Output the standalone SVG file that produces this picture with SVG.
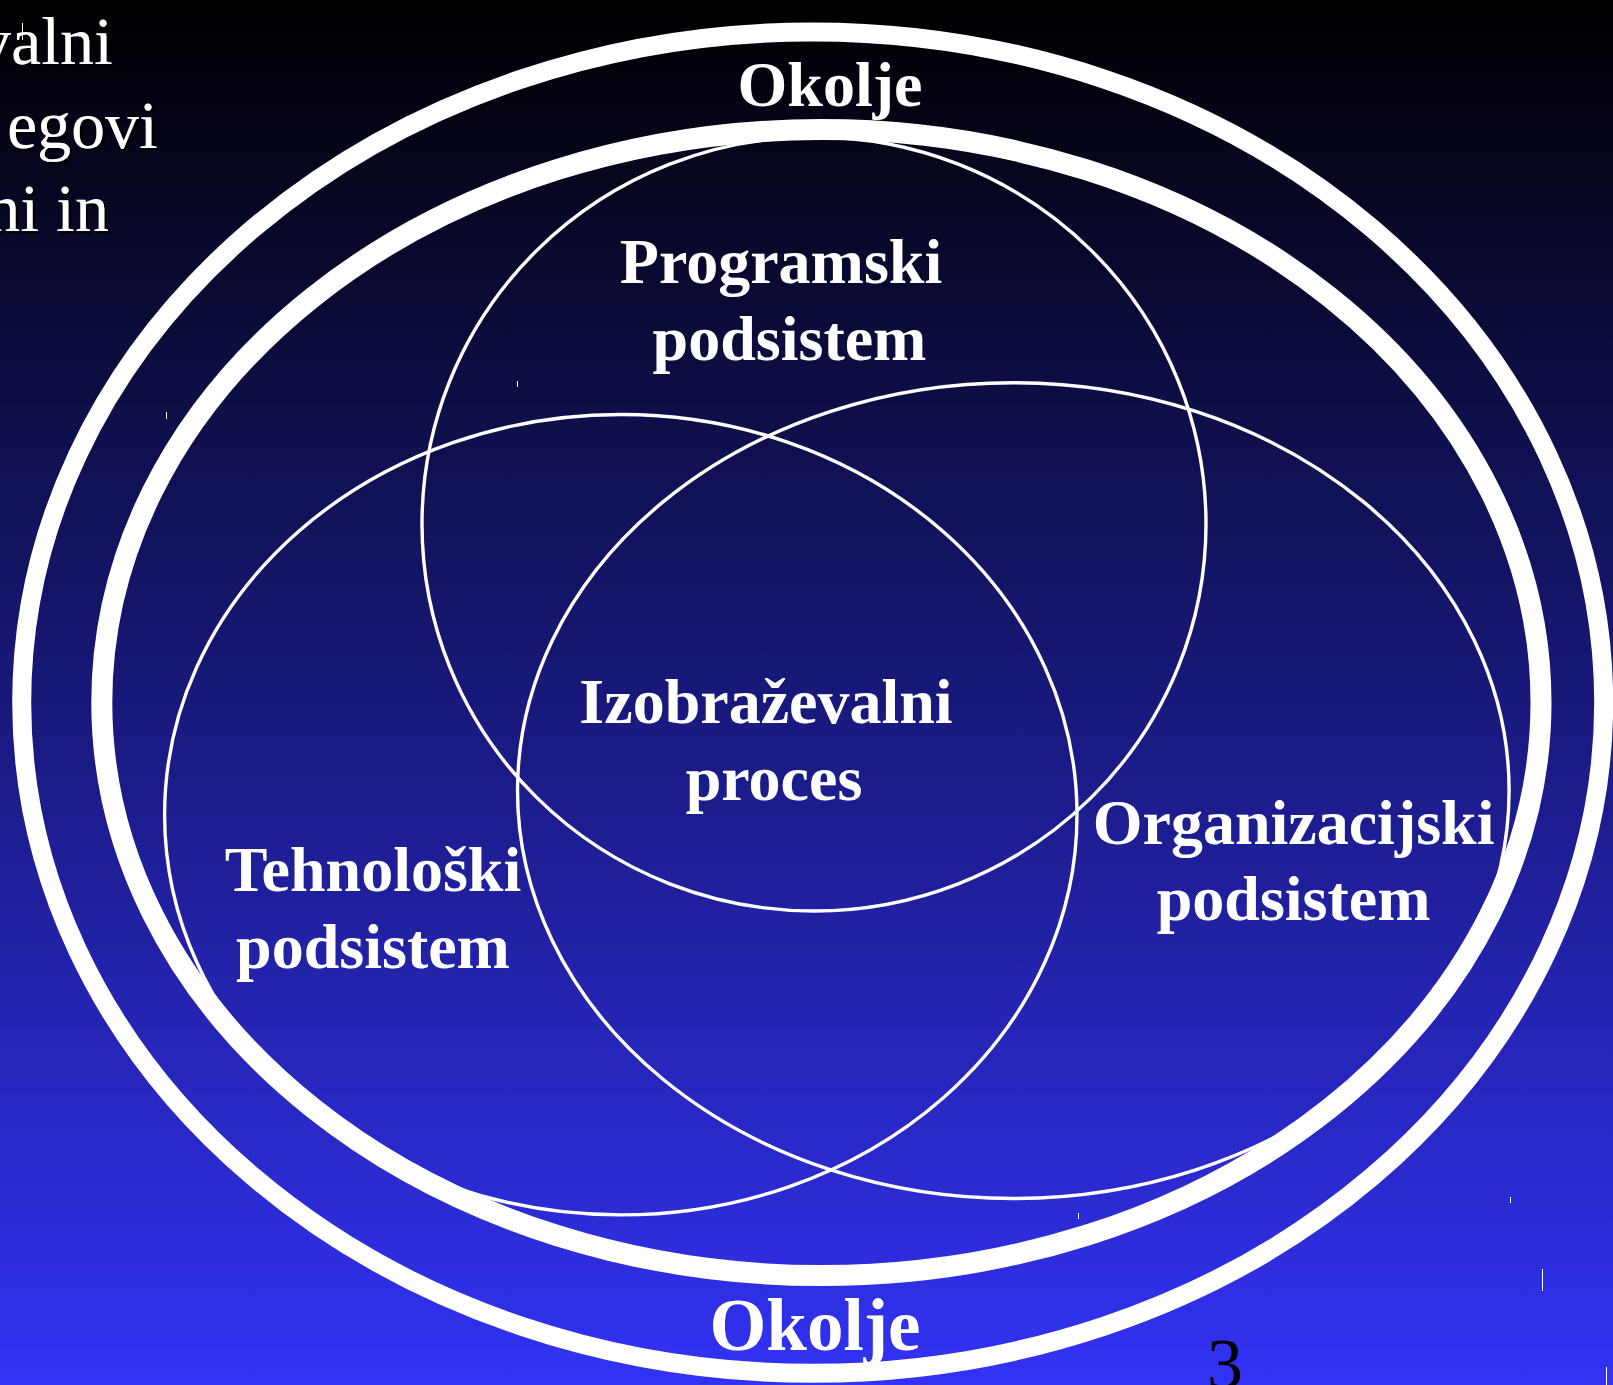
<svg xmlns="http://www.w3.org/2000/svg" width="1613" height="1385" viewBox="0 0 1613 1385">
  <defs>
    <linearGradient id="bg" x1="0" y1="0" x2="0" y2="1">
      <stop offset="0" stop-color="#000000"/>
      <stop offset="0.5" stop-color="#18187a"/>
      <stop offset="1" stop-color="#3232f4"/>
    </linearGradient>
    <filter id="sh" x="-5%" y="-20%" width="110%" height="140%">
      <feDropShadow dx="2.5" dy="2.5" stdDeviation="0.3" flood-color="#000000" flood-opacity="1"/>
    </filter>
  </defs>
  <style>
    .ring { fill: none; stroke: #ffffff; }
    .thin { fill: none; stroke: #ffffff; stroke-width: 3.4; }
    .lbl { font-family: "Liberation Serif", "Times New Roman", serif; font-weight: bold; fill: #ffffff; text-anchor: middle; }
    .side { font-family: "Liberation Serif", "Times New Roman", serif; font-size: 68px; fill: #ffffff; text-anchor: end; filter: url(#sh); }
    .tick { stroke: #ffffff; stroke-width: 1; }
  </style>
  <rect x="0" y="0" width="1613" height="1385" fill="url(#bg)"/>

  <g id="side-text">
    <text class="side" x="113" y="64">valni</text>
    <text class="side" x="158" y="148">egovi</text>
    <text class="side" x="109" y="231">ni in</text>
  </g>

  <g id="connectors">
    <ellipse id="okolje-ring-outer" class="ring" stroke-width="19" cx="812.7" cy="702.6" rx="791" ry="670.7"/>
    <ellipse id="okolje-ring-inner" class="ring" stroke-width="21" cx="821.4" cy="702.6" rx="719.6" ry="573"/>
  </g>

  <g id="programski">
    <ellipse class="thin" cx="814" cy="524" rx="392" ry="387"/>
    <text class="lbl" font-size="64" x="781" y="283">Programski</text>
    <text class="lbl" font-size="64" x="789.5" y="360">podsistem</text>
  </g>

  <g id="tehnoloski">
    <ellipse class="thin" cx="620.8" cy="814.7" rx="456.2" ry="400.2"/>
    <text class="lbl" font-size="64" x="373" y="891">Tehnološki</text>
    <text class="lbl" font-size="64" x="373" y="968">podsistem</text>
  </g>

  <g id="organizacijski">
    <ellipse class="thin" cx="1013.3" cy="790.6" rx="495.8" ry="407.9"/>
    <text class="lbl" font-size="64" x="1293.6" y="843.5">Organizacijski</text>
    <text class="lbl" font-size="64" x="1293.6" y="920">podsistem</text>
  </g>

  <g id="izobrazevalni">
    <text class="lbl" font-size="64" x="766" y="723">Izobraževalni</text>
    <text class="lbl" font-size="64" x="774" y="800">proces</text>
  </g>

  <g id="okolje">
    <text class="lbl" font-size="64" x="830" y="106">Okolje</text>
    <text class="lbl" font-size="73" x="815" y="1350">Okolje</text>
  </g>

  <g id="page-number">
    <text x="1207" y="1388" font-family="Liberation Serif, 'Times New Roman', serif" font-size="72" fill="#000000">3</text>
  </g>

  <g id="ticks">
    <line class="tick" x1="22.5" y1="23" x2="22.5" y2="40"/>
    <line class="tick" x1="422.5" y1="123" x2="422.5" y2="130"/>
    <line class="tick" x1="517.5" y1="381" x2="517.5" y2="387"/>
    <line class="tick" x1="166.5" y1="412" x2="166.5" y2="419"/>
    <line class="tick" x1="1078.5" y1="1213" x2="1078.5" y2="1219"/>
    <line class="tick" x1="1510.5" y1="1197" x2="1510.5" y2="1203"/>
    <line class="tick" x1="1542.5" y1="1269" x2="1542.5" y2="1291"/>
    <line class="tick" x1="1606.5" y1="1367" x2="1606.5" y2="1385"/>
  </g>
</svg>
